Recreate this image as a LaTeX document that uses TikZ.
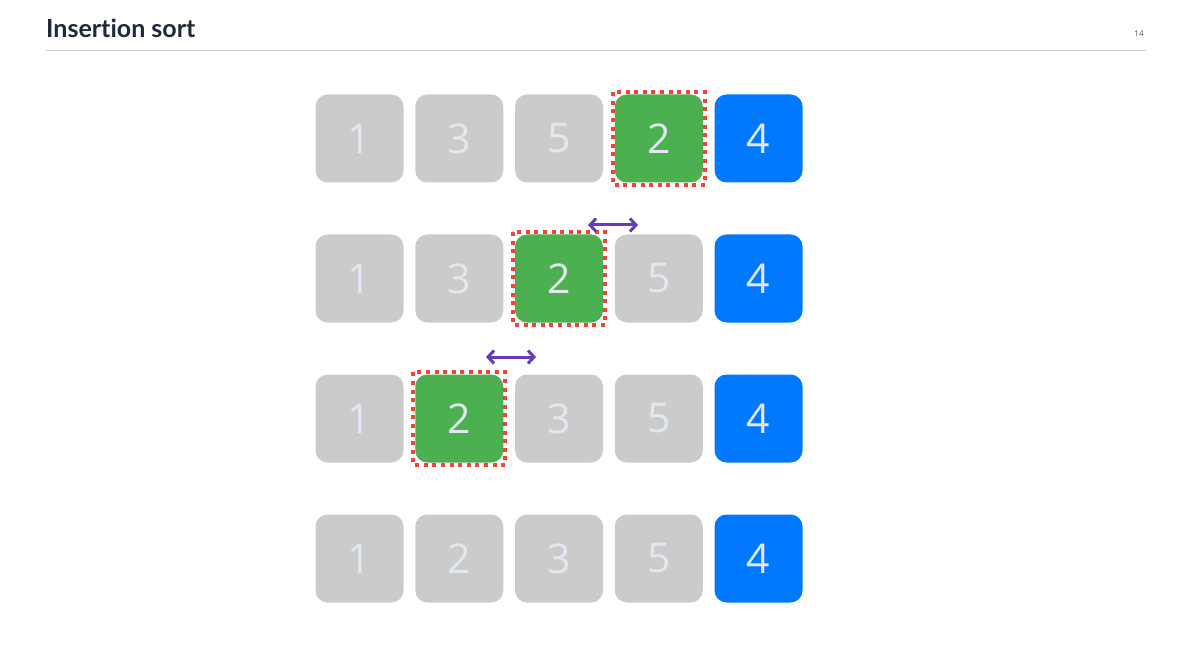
\documentclass[tikz,border=0pt]{standalone}
\usepackage{fontspec}
\setmainfont{Open Sans}
\newfontfamily\titlefont[Ligatures=NoCommon]{Lato}
\usetikzlibrary{arrows.meta,positioning}
\definecolor{cellgray}{HTML}{CBCBCB}
\definecolor{keygreen}{HTML}{4CAF50}
\definecolor{lastblue}{HTML}{0079FF}
\definecolor{digitcolor}{HTML}{E2E8F0}
\definecolor{markred}{HTML}{F44336}
\definecolor{swapviolet}{HTML}{673AB7}
\definecolor{titlecolor}{HTML}{1E293B}
\definecolor{rulecolor}{HTML}{C5CBD6}

\tikzset{
  cell/.style={rounded corners=12pt, minimum width=88pt, minimum height=88pt,
    inner sep=0pt, text=digitcolor, font=\fontsize{41}{41}\selectfont},
  graycell/.style={cell, fill=cellgray},
  keycell/.style={cell, fill=keygreen},
  lastcell/.style={cell, fill=lastblue},
  markframe/.style={draw=markred, line width=4pt, dash pattern=on 4pt off 4.6pt},
  swaparrow/.style={draw=swapviolet, line width=3pt,
    {Straight Barb[length=6pt,width=13pt]}-{Straight Barb[length=6pt,width=13pt]}}
}

\begin{document}
\begin{tikzpicture}[x=1pt,y=-1pt]
  \useasboundingbox (0,0) rectangle (1188,652);

  % heading
  \node [anchor=base west, inner xsep=0pt, text=titlecolor, font=\titlefont\bfseries\fontsize{25}{25}\selectfont]
    (title) at (46,38) {Insertion sort};
  \node [text=titlecolor!80, font=\fontsize{8}{8}\selectfont] (pagenum) at (1139,34) {14};
  \coordinate (rulel) at (46,50.5);
  \coordinate (ruler) at (1146,50.5);
  \draw [rulecolor, line width=1pt] (rulel) -- (ruler);

  % the four rows of cells
  \foreach \r/\y/\cells in {
      1/138.5/{graycell/1,graycell/3,graycell/5,keycell/2,lastcell/4},
      2/278.5/{graycell/1,graycell/3,keycell/2,graycell/5,lastcell/4},
      3/418.5/{graycell/1,keycell/2,graycell/3,graycell/5,lastcell/4},
      4/558.5/{graycell/1,graycell/2,graycell/3,graycell/5,lastcell/4}}
  {
    \foreach \s/\t [count=\c] in \cells
      \node [\s] (r\r c\c) at ({359.5+99.75*(\c-1)},\y) {\t};
  }

  % the key being inserted
  \foreach \n in {r1c4,r2c3,r3c2}
    \draw [markframe] ([shift={(-2pt,2pt)}]\n.north west) rectangle ([shift={(2pt,-2pt)}]\n.south east);

  % swaps
  \coordinate (swapal) at (588,225);
  \coordinate (swapar) at (638,225);
  \coordinate (swapbl) at (486,357);
  \coordinate (swapbr) at (536,357);
  \draw [swaparrow] (swapal) -- (swapar);
  \draw [swaparrow] (swapbl) -- (swapbr);
\end{tikzpicture}
\end{document}
